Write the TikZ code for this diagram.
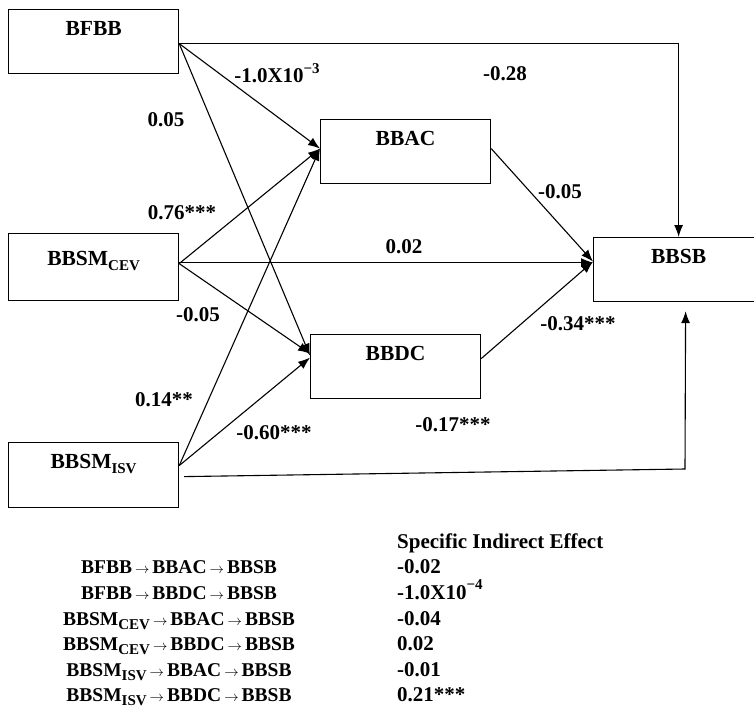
\documentclass[tikz,border=0pt]{standalone}
\usepackage{fontspec}
\setmainfont{Liberation Serif}
\usetikzlibrary{arrows.meta}
\newcommand{\hightxt}[1]{\raisebox{.45em}{\fontsize{15}{15}\selectfont #1}}
\newcommand{\lowtxt}[1]{\raisebox{-.22em}{\fontsize{15}{15}\selectfont #1}}
\newcommand{\pth}{\hspace{3pt}{\fontsize{15}{15}\selectfont$\rightarrow$}\hspace{3pt}}
\tikzstyle{bx}=[draw=black,line width=1.2pt,anchor=north west,minimum width=170pt,inner sep=0pt,text height=26pt,text depth=38pt,font=\bfseries\fontsize{21.5}{21.5}\selectfont]
\tikzstyle{lbl}=[inner sep=0pt,font=\bfseries\fontsize{21}{21}\selectfont]
\tikzstyle{tbl}=[inner sep=0pt,font=\bfseries\fontsize{21}{21}\selectfont]
\tikzstyle{pathtxt}=[inner sep=0pt,anchor=base,font=\bfseries\fontsize{19.5}{19.5}\selectfont]
\tikzstyle{arr}=[line width=1.1pt,-{Latex[length=12pt,width=9pt]}]

\begin{document}
\begin{tikzpicture}[x=1pt,y=-1pt]
\useasboundingbox (0,0) rectangle (754,709);
% boxes
\node[bx] (bfbb) at (8,9) {BFBB};
\node[bx,text height=32pt,text depth=35pt] (cev) at (8,233) {BBSM\lowtxt{CEV}};
\node[bx,text depth=39pt] (isv) at (8,442) {BBSM\lowtxt{ISV}};
\node[bx] (bbac) at (320,119) {BBAC};
\node[bx] (bbdc) at (310,334) {BBDC};
\node[bx] (bbsb) at (593,237) {BBSB};
% paths
\coordinate (isvcorner) at (685,469);
\draw[arr] ([yshift=-2pt]bfbb.east) -| (bbsb.north);
\draw[arr] ([yshift=-2pt]bfbb.east) -- ([yshift=3pt]bbac.west);
\draw[arr] ([yshift=-2pt]bfbb.east) -- ([yshift=11pt]bbdc.west);
\draw[arr] ([yshift=3.5pt]cev.east) -- ([yshift=3pt]bbac.west);
\draw[arr] ([yshift=4.5pt]cev.east) -- ([yshift=7pt]bbsb.west);
\draw[arr] ([yshift=3.5pt]cev.east) -- ([yshift=13pt]bbdc.west);
\draw[arr] ([yshift=9.5pt]isv.east) -- ([yshift=3pt]bbac.west);
\draw[arr] ([yshift=9.5pt]isv.east) -- ([yshift=9pt]bbdc.west);
\draw[arr] ([xshift=5pt,yshift=-1.5pt]isv.east) -- (isvcorner) -- ([xshift=7pt,yshift=-9pt]bbsb.south);
\draw[arr] ([yshift=3pt]bbac.east) -- ([yshift=8pt]bbsb.west);
\draw[arr] ([yshift=8pt]bbdc.east) -- ([yshift=8pt]bbsb.west);
% path labels
\node[lbl] (w1) at (277,73) {-1.0X10\hightxt{−3}};
\node[lbl] (w2) at (505,74) {-0.28};
\node[lbl] (w3) at (166,120) {0.05};
\node[lbl] (w4) at (182,213) {0.76***};
\node[lbl] (w5) at (560,192) {-0.05};
\node[lbl] (w6) at (404,247) {0.02};
\node[lbl] (w7) at (198,315) {-0.05};
\node[lbl] (w8) at (578,324) {-0.34***};
\node[lbl] (w9) at (164,400) {0.14**};
\node[lbl] (w10) at (274,433) {-0.60***};
\node[lbl] (w11) at (453,425) {-0.17***};
% indirect effects
\node[tbl,anchor=base west] (hd) at (397,548) {Specific Indirect Effect};
\node[pathtxt] (p1) at (179,573) {BFBB\pth BBAC\pth BBSB};
\node[pathtxt] (p2) at (179,599) {BFBB\pth BBDC\pth BBSB};
\node[pathtxt] (p3) at (179,625) {BBSM\lowtxt{CEV}\pth BBAC\pth BBSB};
\node[pathtxt] (p4) at (179,650) {BBSM\lowtxt{CEV}\pth BBDC\pth BBSB};
\node[pathtxt] (p5) at (179,676) {BBSM\lowtxt{ISV}\pth BBAC\pth BBSB};
\node[pathtxt] (p6) at (179,701) {BBSM\lowtxt{ISV}\pth BBDC\pth BBSB};
\node[tbl,anchor=base west] (e1) at (397,573) {-0.02};
\node[tbl,anchor=base west] (e2) at (397,599) {-1.0X10\hightxt{−4}};
\node[tbl,anchor=base west] (e3) at (397,625) {-0.04};
\node[tbl,anchor=base west] (e4) at (397,650) {0.02};
\node[tbl,anchor=base west] (e5) at (397,676) {-0.01};
\node[tbl,anchor=base west] (e6) at (397,701) {0.21***};
\end{tikzpicture}
\end{document}
